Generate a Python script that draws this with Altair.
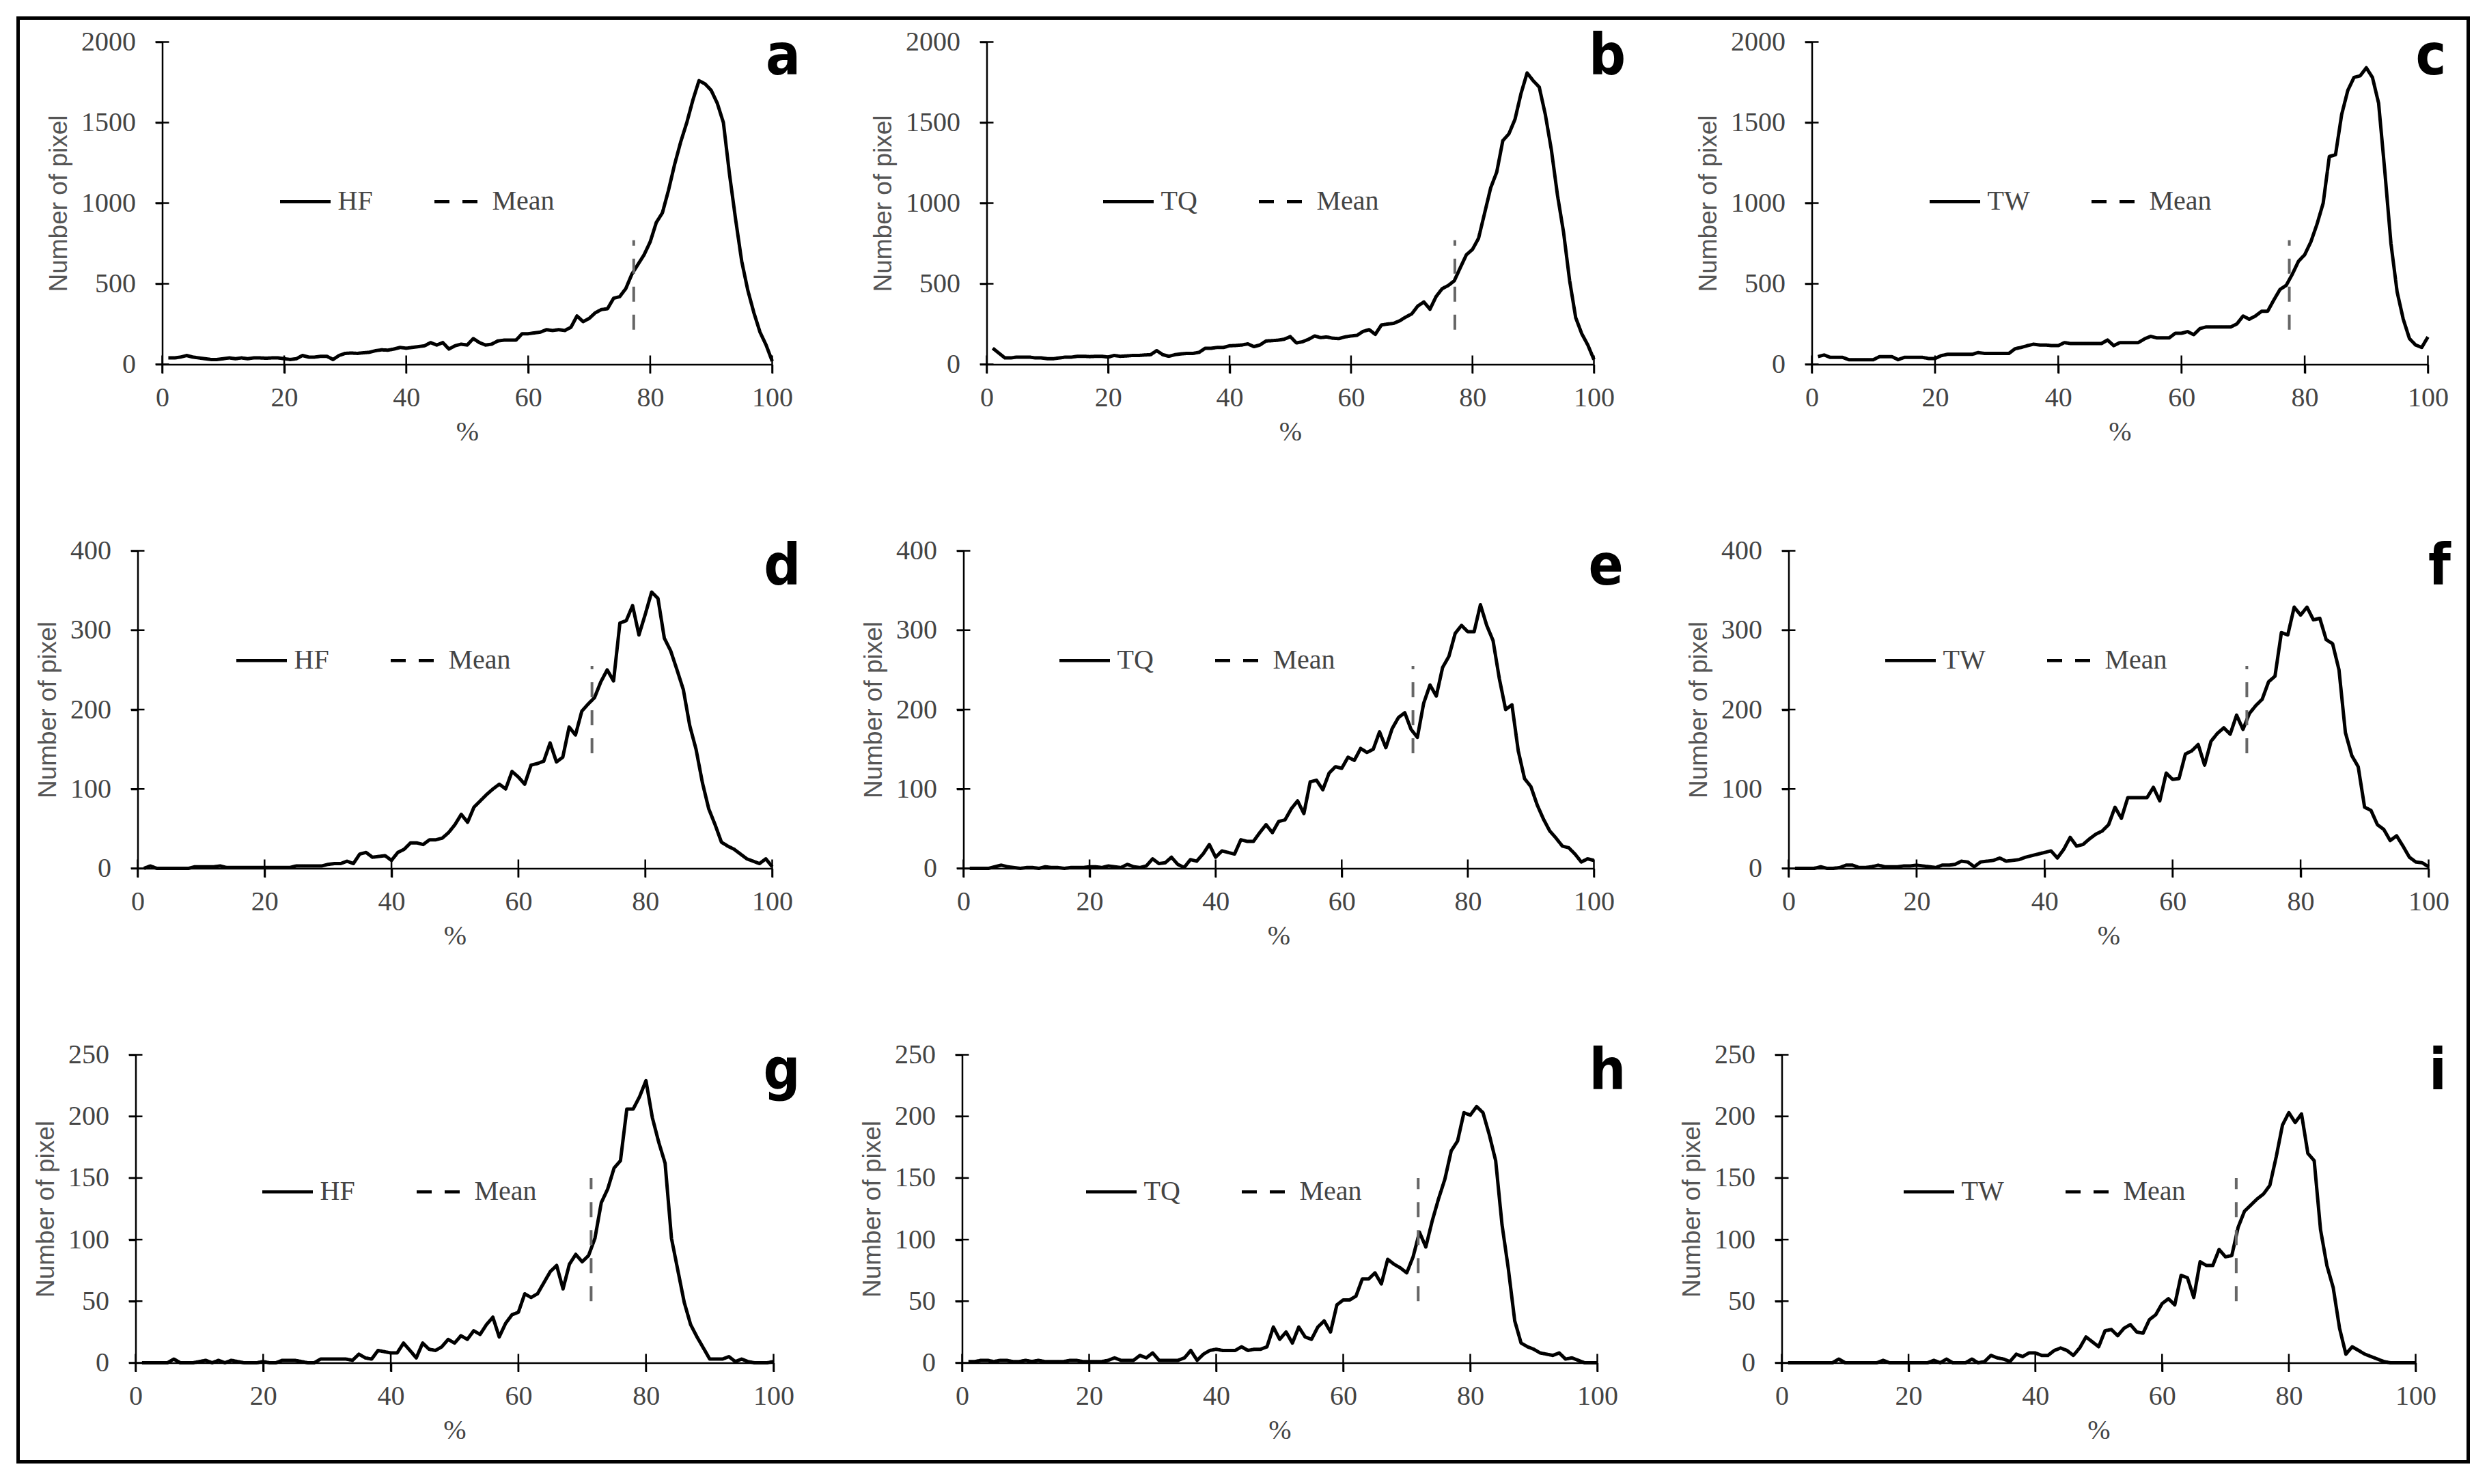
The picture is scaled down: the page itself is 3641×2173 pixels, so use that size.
import altair as alt
import pandas as pd

# ---------------- data ----------------
x_pct = list(range(1, 101))

top_hf = [40, 40, 45, 55, 45, 40, 35, 30, 30, 35,
          40, 35, 40, 35, 40, 40, 38, 40, 40, 35,
          30, 35, 55, 45, 45, 50, 50, 30, 55, 68,
          70, 68, 72, 75, 85, 90, 88, 95, 105, 100,
          105, 110, 115, 135, 120, 135, 95, 115, 125, 120,
          160, 135, 120, 125, 145, 150, 150, 150, 190, 190,
          195, 200, 215, 210, 215, 210, 230, 300, 265, 285,
          320, 340, 345, 410, 420, 470, 560, 620, 680, 760,
          880, 940, 1080, 1240, 1380, 1500, 1640, 1760, 1740, 1700,
          1620, 1500, 1180, 900, 640, 460, 320, 200, 120, 20]

top_tq = [100, 70, 40, 40, 45, 45, 45, 40, 40, 35,
          35, 40, 45, 45, 50, 50, 48, 50, 50, 45,
          55, 50, 52, 55, 55, 58, 60, 85, 60, 50,
          60, 65, 68, 68, 75, 100, 100, 105, 105, 115,
          117, 120, 127, 110, 120, 145, 147, 150, 156, 172,
          133, 140, 155, 176, 166, 170, 162, 160, 170, 176,
          180, 205, 215, 186, 244, 250, 254, 270, 293, 313,
          362, 387, 342, 420, 469, 489, 518, 600, 680, 713,
          782, 938, 1095, 1193, 1388, 1430, 1520, 1681, 1808, 1760,
          1720, 1550, 1330, 1050, 820, 520, 290, 190, 120, 30]

top_tw = [48, 58, 43, 43, 43, 29, 29, 29, 29, 29,
          48, 48, 48, 29, 43, 43, 43, 43, 36, 36,
          54, 62, 62, 62, 62, 62, 73, 68, 68, 68,
          68, 68, 97, 105, 116, 125, 120, 120, 116, 116,
          135, 129, 129, 129, 129, 129, 129, 151, 116, 135,
          135, 135, 135, 158, 174, 164, 164, 164, 193, 193,
          203, 184, 222, 232, 232, 232, 232, 232, 251, 300,
          280, 300, 329, 330, 400, 465, 490, 560, 640, 680,
          760, 870, 1000, 1290, 1300, 1550, 1700, 1780, 1790, 1840,
          1780, 1620, 1200, 750, 450, 280, 160, 120, 105, 170]

mid_hf = [0, 3, 0, 0, 0, 0, 0, 0, 2, 2,
          2, 2, 3, 1, 1, 1, 1, 1, 1, 1,
          1, 1, 1, 1, 3, 3, 3, 3, 3, 5,
          6, 6, 9, 6, 18, 20, 14, 15, 16, 10,
          20, 24, 32, 32, 30, 36, 36, 38, 45, 55,
          68, 58, 77, 85, 93, 100, 106, 100, 122, 115,
          106, 130, 132, 135, 158, 134, 140, 178, 168, 198,
          207, 215, 235, 250, 236, 309, 312, 331, 294, 320,
          348, 340, 290, 274, 250, 225, 180, 150, 108, 75,
          55, 33, 28, 24, 18, 12, 9, 6, 12, 2]

mid_tq = [0, 0, 0, 0, 2, 4, 2, 1, 0, 1,
          1, 0, 2, 1, 1, 0, 1, 1, 1, 2,
          2, 1, 3, 2, 1, 5, 2, 1, 3, 12,
          6, 7, 14, 5, 1, 11, 9, 18, 30, 14,
          22, 20, 18, 36, 34, 34, 45, 55, 45, 59,
          61, 75, 85, 69, 109, 111, 99, 120, 128, 126,
          140, 136, 151, 146, 150, 172, 152, 176, 190, 196,
          175, 165, 208, 231, 217, 253, 267, 296, 306, 298,
          298, 332, 306, 287, 239, 200, 206, 148, 113, 103,
          80, 62, 47, 38, 28, 26, 18, 8, 12, 10]

mid_tw = [0, 0, 0, 0, 2, 0, 0, 1, 4, 4,
          1, 1, 2, 4, 2, 2, 2, 3, 3, 4,
          3, 2, 1, 4, 4, 5, 9, 8, 2, 8,
          9, 10, 13, 9, 10, 11, 14, 16, 18, 20,
          22, 13, 24, 39, 28, 30, 37, 43, 47, 55,
          77, 63, 89, 89, 89, 89, 102, 85, 120, 112,
          113, 144, 148, 156, 130, 160, 170, 177, 169, 193,
          175, 195, 205, 213, 235, 242, 297, 294, 329, 319,
          329, 313, 315, 288, 283, 250, 171, 142, 128, 77,
          73, 55, 49, 35, 41, 28, 14, 8, 7, 2]

bot_hf = [0, 0, 0, 0, 0, 3, 0, 0, 0, 1,
          2, 0, 2, 0, 2, 1, 0, 0, 0, 1,
          0, 0, 2, 2, 2, 1, 0, 0, 3, 3,
          3, 3, 3, 2, 7, 4, 3, 10, 9, 8,
          8, 16, 10, 4, 16, 11, 10, 13, 19, 16,
          22, 19, 26, 23, 31, 37, 21, 32, 39, 41,
          56, 53, 56, 65, 74, 79, 60, 80, 88, 82,
          87, 101, 130, 141, 158, 164, 206, 206, 216, 229,
          199, 179, 162, 101, 75, 49, 31, 21, 12, 3,
          3, 3, 5, 1, 3, 1, 0, 0, 0, 1]

bot_tq = [1, 1, 2, 2, 1, 2, 2, 1, 1, 2,
          1, 2, 1, 1, 1, 1, 2, 2, 1, 1,
          1, 1, 2, 4, 2, 2, 2, 6, 4, 8,
          2, 2, 2, 2, 4, 10, 2, 7, 10, 11,
          10, 10, 10, 13, 10, 11, 11, 13, 29, 19,
          25, 16, 29, 21, 19, 29, 34, 25, 47, 51,
          51, 54, 68, 68, 73, 64, 84, 80, 77, 73,
          86, 106, 94, 115, 133, 149, 172, 180, 203, 201,
          208, 203, 185, 164, 112, 76, 34, 16, 13, 11,
          8, 7, 6, 8, 3, 4, 2, 0, 0, 0]

bot_tw = [0, 0, 0, 0, 0, 0, 0, 0, 3, 0,
          0, 0, 0, 0, 0, 2, 0, 0, 0, 0,
          0, 0, 0, 2, 0, 3, 0, 0, 0, 3,
          0, 1, 6, 4, 3, 1, 7, 5, 8, 8,
          6, 6, 10, 12, 10, 6, 12, 21, 17, 13,
          26, 27, 22, 28, 31, 25, 24, 35, 39, 48,
          52, 47, 71, 69, 53, 82, 79, 79, 92, 86,
          87, 110, 123, 128, 133, 137, 144, 167, 193, 203,
          195, 202, 170, 164, 108, 79, 61, 28, 7, 13,
          10, 7, 5, 3, 1, 0, 0, 0, 0, 0]

series = [top_hf, top_tq, top_tw, mid_hf, mid_tq, mid_tw, bot_hf, bot_tq, bot_tw]
names = ["HF", "TQ", "TW", "HF", "TQ", "TW", "HF", "TQ", "TW"]
letters = ["a", "b", "c", "d", "e", "f", "g", "h", "i"]
mean_x = [77.3, 77.1, 77.5, 71.6, 71.3, 71.6, 71.4, 71.8, 71.7]
mean_lo = [215, 215, 215, 145, 145, 145, 50, 50, 50]
mean_hi = [770, 770, 770, 255, 255, 255, 150, 150, 150]
y_max = [2000, 2000, 2000, 400, 400, 400, 250, 250, 250]
y_step = [500, 500, 500, 100, 100, 100, 50, 50, 50]
x_ticks = [0, 20, 40, 60, 80, 100]
letter_y = [1800, 1800, 1800, 357, 357, 357, 222, 222, 222]
letter_x = [101.8, 102.2, 100.5, 101.6, 101.9, 101.7, 101.3, 101.6, 103.5]

# ---------------- layout (pixels) ----------------
CELL_W = 947
row_h = [472, 472, 472, 465, 465, 465, 451, 451, 451]
plot_left = [39, 41, 44, 3, 7, 10, 0, 5, 0]
plot_w = [893, 889, 902, 929, 923, 937, 934, 930, 928]
leg_x = [209, 209, 214, 145, 145, 149, 183, 184, 176]
leg_y = [194, 194, 194, 121, 121, 121, 161, 161, 161]

SERIF = "Liberation Serif"
SANS = "Liberation Sans"
GREY = "#444444"


def panel(k):
    l, w = plot_left[k], plot_w[k]
    xs = alt.Scale(domain=[0, 100], range=[l, l + w], nice=False, zero=False)
    ys = alt.Scale(domain=[0, y_max[k]], nice=False)
    yticks = list(range(0, y_max[k] + 1, y_step[k]))
    xaxis = alt.Axis(values=x_ticks, title="%", grid=False, format="d",
                     domainColor="black", domainWidth=2.5,
                     tickColor="black", tickWidth=2.5, tickSize=13,
                     labelFont=SERIF, labelFontSize=40, labelColor=GREY,
                     labelPadding=16, labelFlush=False,
                     titleFont=SERIF, titleFontSize=40, titleFontWeight="normal",
                     titleColor=GREY, titlePadding=10)
    yaxis = alt.Axis(values=yticks, title="Number of pixel", grid=False, format="d",
                     offset=-l,
                     domainColor="black", domainWidth=2.5,
                     tickColor="black", tickWidth=2.5, tickSize=10,
                     labelFont=SERIF, labelFontSize=40, labelColor=GREY,
                     labelPadding=29, labelFlush=False,
                     titleFont=SANS, titleFontSize=37, titleFontWeight="normal",
                     titleColor="#555555", titlePadding=13)
    dash_scale = alt.Scale(domain=[names[k], "Mean"], range=[[1, 0], [22, 19]])
    legend = alt.Legend(orient="none", legendX=leg_x[k], legendY=leg_y[k],
                        direction="horizontal", title=None,
                        labelFont=SERIF, labelFontSize=40, labelColor=GREY,
                        symbolType="stroke", symbolSize=5476, symbolStrokeWidth=4.5,
                        symbolStrokeColor="black", labelOffset=8,
                        columnPadding=80, padding=0, offset=0)

    X = alt.X("x:Q", scale=xs, axis=xaxis)
    Y = alt.Y("y:Q", scale=ys, axis=yaxis)
    D = alt.StrokeDash("s:N", scale=dash_scale, legend=legend)

    line_df = pd.DataFrame({"x": x_pct, "y": series[k], "s": names[k]})
    mean_df = pd.DataFrame({"x": [mean_x[k]], "y": [mean_lo[k]],
                            "y2": [mean_hi[k]], "s": ["Mean"]})
    xt_df = pd.DataFrame({"x": x_ticks, "y": [0] * len(x_ticks)})
    yt_df = pd.DataFrame({"x": [0] * len(yticks), "y": yticks})
    let_df = pd.DataFrame({"x": [letter_x[k]], "y": [letter_y[k]], "t": [letters[k]]})

    line = alt.Chart(line_df).mark_line(color="black", strokeWidth=5,
                                        strokeJoin="round").encode(x=X, y=Y, strokeDash=D)
    mean = alt.Chart(mean_df).mark_rule(color="#666666", strokeWidth=4).encode(
        x=X, y=Y, y2="y2:Q", strokeDash=D)
    xt = alt.Chart(xt_df).mark_tick(orient="vertical", size=26, thickness=2.5,
                                    color="black", opacity=1).encode(x=X, y=Y)
    yt = alt.Chart(yt_df).mark_tick(orient="horizontal", size=20, thickness=2.5,
                                    color="black", opacity=1).encode(x=X, y=Y)
    let = alt.Chart(let_df).mark_text(
        font="Liberation Sans Narrow, DejaVu Sans Condensed, Liberation Sans",
        fontWeight="bold", fontSize=84, color="black",
        align="center", baseline="alphabetic").encode(x=X, y=Y, text="t:N")

    layers = [line, mean, xt, yt, let]
    if k == 0:
        frame = alt.Chart(pd.DataFrame({"f": [0]})).mark_rect(
            filled=False, stroke="black", strokeWidth=5).encode(
            x=alt.value(-172), x2=alt.value(3415),
            y=alt.value(-35), y2=alt.value(2079))
        layers.append(frame)
    return alt.layer(*layers).properties(width=CELL_W, height=row_h[k])


panels = [panel(k) for k in range(9)]

chart = alt.concat(*panels, columns=3, spacing={"row": 273, "column": 258},
                   bounds="flush").resolve_scale(
    x="independent", y="independent", strokeDash="independent"
).resolve_legend(strokeDash="independent").configure_view(
    stroke=None
).properties(padding=15.5, background="white")

chart.save("out.html", embed_options={"renderer": "svg", "actions": False})
